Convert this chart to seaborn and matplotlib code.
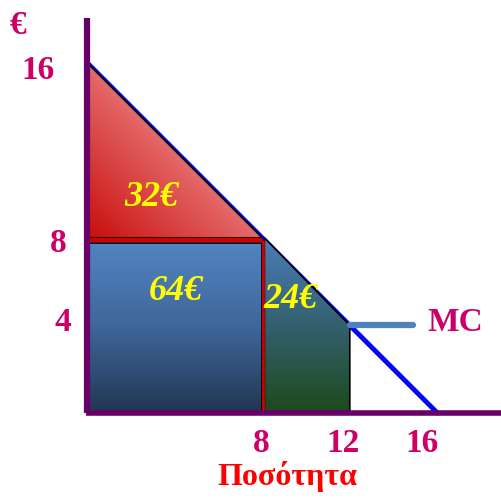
import numpy as np
import matplotlib
matplotlib.use("Agg")
import matplotlib.pyplot as plt
import seaborn as sns
from matplotlib.patches import Polygon
from matplotlib.colors import LinearSegmentedColormap

# data
demand_q = [0, 16]
demand_p = [16, 0]
price = 8
quantity = 8
mc_value = 4
mc_q = [12, 14.9]
y_ticks = [16, 8, 4]
x_ticks = [8, 12, 16]
area_labels = ["32€", "64€", "24€"]

sns.set_style("white")
plt.rcParams["font.family"] = ["Liberation Serif", "DejaVu Serif"]

PX = 21.9  # pixels per unit
fig = plt.figure(figsize=(5.02, 4.98), dpi=100)
ax = fig.add_axes([0, 0, 1, 1])
ax.set_xlim(-87 / PX, (502 - 87) / PX)
ax.set_ylim(-85 / PX, (498 - 85) / PX)
ax.axis("off")


def gradient_fill(verts, colors, mode, zorder):
    poly = Polygon(verts, closed=True, fc="none", ec="black", lw=1.2, zorder=zorder + 0.1)
    ax.add_patch(poly)
    xs = [v[0] for v in verts]
    ys = [v[1] for v in verts]
    t = np.linspace(0, 1, 200)
    if mode == "diag":
        grad = (t[None, :] + t[:, None]) / 2
    else:
        grad = np.repeat(t[:, None], 200, axis=1)
    cmap = LinearSegmentedColormap.from_list("g", colors)
    im = ax.imshow(grad, cmap=cmap, origin="lower", aspect="auto", zorder=zorder,
                   extent=[min(xs), max(xs), min(ys), max(ys)])
    im.set_clip_path(poly)


# demand line
sns.lineplot(x=demand_q, y=demand_p, ax=ax, color="#0000FF", lw=3.5, zorder=1)

# areas
gradient_fill([(0, demand_p[0]), (0, price), (quantity, price)],
              ["#C80E0E", "#E56A6A", "#EC8A8A"], "diag", 2)
gradient_fill([(0, 0), (0, price - 0.22), (quantity, price - 0.22), (quantity, 0)],
              ["#233652", "#3E669A", "#5284C0"], "v", 2)
gradient_fill([(quantity + 0.1, 0), (quantity + 0.1, price), (mc_q[0], mc_value), (mc_q[0], 0)],
              ["#1D4A1C", "#33606E", "#4A7DBA"], "v", 2)

# red borders
ax.plot([0, quantity], [price - 0.11, price - 0.11], color="#D00000", lw=3, zorder=3,
        solid_capstyle="butt")
ax.plot([quantity + 0.05, quantity + 0.05], [0, price - 0.11], color="#D00000", lw=2,
        zorder=3, solid_capstyle="butt")

# MC line
sns.lineplot(x=mc_q, y=[mc_value, mc_value], ax=ax, color="#4F81BD", lw=4.5, zorder=3)

# axes
purple = "#660066"
ax.plot([0, 0], [0, 18.05], color=purple, lw=4.5, zorder=4, solid_capstyle="butt")
ax.plot([-0.05, 19.2], [0, 0], color=purple, lw=4, zorder=4, solid_capstyle="butt")

tick_color = "#CC0066"
tick_kw = dict(color=tick_color, fontsize=24, fontweight="bold", ha="center", va="center")
for val, xpos, dy in zip(y_ticks, [-2.25, -1.3, -1.12], [-0.34, -0.24, 0.12]):
    ax.text(xpos, val + dy, str(val), **tick_kw)
for val, xpos in zip(x_ticks, [7.95, 11.7, 15.3]):
    ax.text(xpos, -1.4, str(val), **tick_kw)
ax.text(-3.15, 17.7, "€", **tick_kw)
ax.text(16.8, 4.15, "MC", **tick_kw)
ax.text(9.15, -2.9, "Ποσότητα", color="#FF0000", fontsize=23, fontweight="bold",
        ha="center", va="center")

lab_kw = dict(color="#FFFF00", fontsize=26, fontweight="bold", fontstyle="italic",
              ha="center", va="center")
for lab, (lx, ly) in zip(area_labels, [(2.95, 9.82), (4.05, 5.57), (9.3, 5.17)]):
    ax.text(lx, ly, lab, **lab_kw)

fig.savefig("out.png", dpi=100)
